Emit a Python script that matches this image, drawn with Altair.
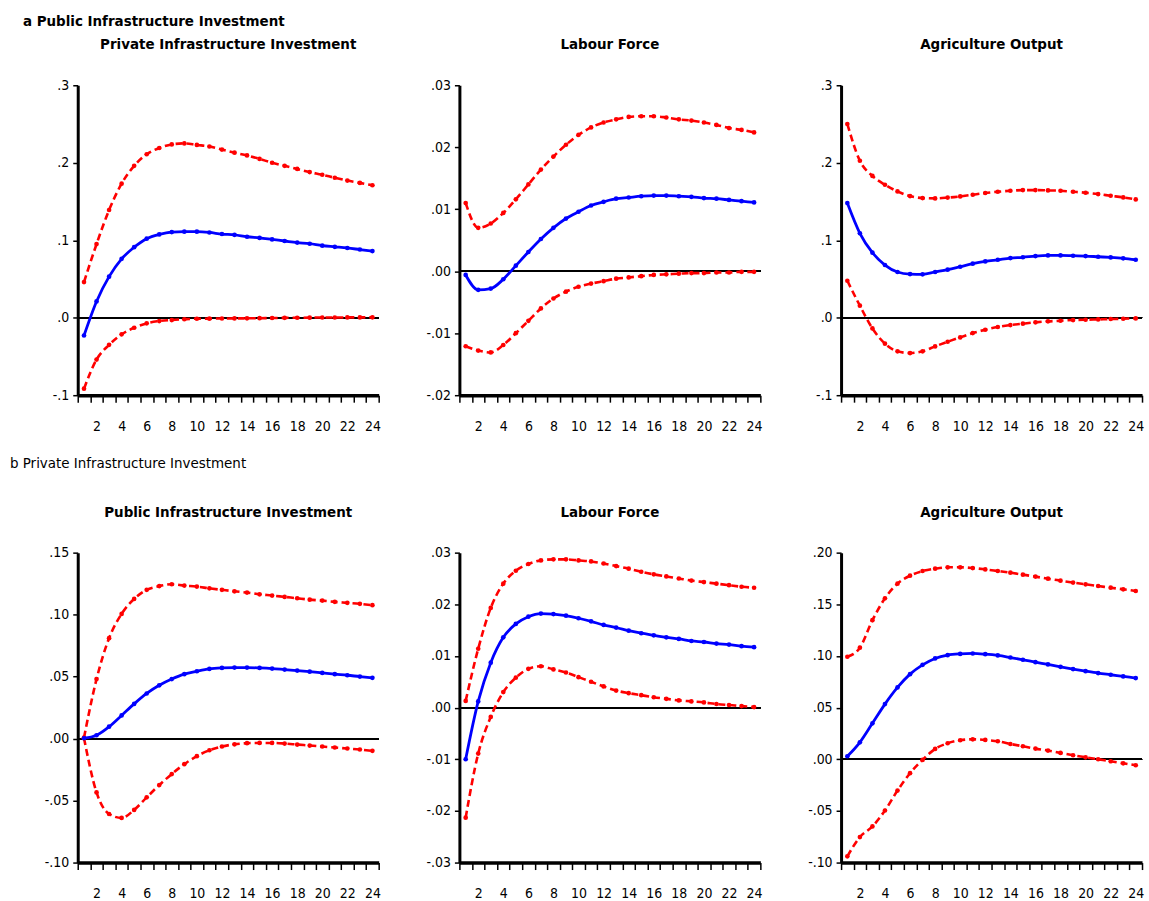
import altair as alt
import pandas as pd

periods = list(range(1, 25))

# ---- Row a: shock to Public Infrastructure Investment ----
a1_title = "Private  Infrastructure Investment"
a1_irf = [-0.023, 0.021, 0.053, 0.076, 0.091, 0.102, 0.1075, 0.1105, 0.111, 0.111, 0.110, 0.108,
          0.107, 0.1045, 0.103, 0.101, 0.099, 0.097, 0.0955, 0.093, 0.0915, 0.090, 0.088, 0.086]
a1_up = [0.046, 0.095, 0.139, 0.173, 0.196, 0.211, 0.219, 0.2237, 0.225, 0.223, 0.221, 0.217,
         0.213, 0.2095, 0.205, 0.200, 0.196, 0.192, 0.188, 0.1845, 0.1806, 0.177, 0.174, 0.171]
a1_lo = [-0.0916, -0.054, -0.035, -0.0215, -0.013, -0.0073, -0.0043, -0.003, -0.002, -0.0013, -0.0012, -0.001,
         -0.0009, -0.0008, -0.0006, -0.0004, -0.0002, 0.0, 0.0001, 0.0003, 0.0003, 0.0004, 0.0004, 0.0005]

a2_title = "Labour Force"
a2_irf = [-0.0006, -0.003, -0.0028, -0.0013, 0.0009, 0.0031, 0.0052, 0.007, 0.0085, 0.0096, 0.0106, 0.0112,
          0.0117, 0.0119, 0.0121, 0.0122, 0.0122, 0.0121, 0.0120, 0.0118, 0.0117, 0.0115, 0.0113, 0.0111]
a2_up = [0.011, 0.007, 0.0077, 0.0094, 0.0116, 0.014, 0.0164, 0.0185, 0.0204, 0.022, 0.0232, 0.024,
         0.0245, 0.0249, 0.025, 0.025, 0.0248, 0.0245, 0.0243, 0.024, 0.0236, 0.0231, 0.0228, 0.0224]
a2_lo = [-0.0121, -0.0128, -0.0131, -0.0119, -0.010, -0.008, -0.006, -0.0044, -0.0033, -0.0025, -0.002, -0.0016,
         -0.0012, -0.001, -0.0008, -0.0006, -0.0005, -0.0004, -0.0003, -0.0003, -0.0002, -0.0002, -0.0001, -0.0001]

a3_title = "Agriculture Output"
a3_irf = [0.148, 0.109, 0.084, 0.068, 0.059, 0.0563, 0.056, 0.059, 0.062, 0.0658, 0.0697, 0.0727,
          0.0748, 0.077, 0.078, 0.0796, 0.0804, 0.0804, 0.080, 0.0796, 0.0787, 0.0778, 0.0766, 0.0748]
a3_up = [0.250, 0.2026, 0.183, 0.1716, 0.163, 0.157, 0.1544, 0.154, 0.155, 0.1566, 0.1587, 0.161,
         0.1626, 0.1639, 0.1647, 0.1647, 0.1643, 0.1639, 0.1626, 0.1613, 0.1596, 0.1574, 0.1553, 0.1527]
a3_lo = [0.0477, 0.0155, -0.0138, -0.0335, -0.0434, -0.0456, -0.0434, -0.037, -0.031, -0.0254, -0.0198, -0.0155,
         -0.012, -0.0095, -0.0077, -0.006, -0.0047, -0.0039, -0.003, -0.0026, -0.0022, -0.0017, -0.0013, -0.0009]

# ---- Row b: shock to Private Infrastructure Investment ----
b1_title = "Public Infrastructure Investment"
b1_irf = [0.0003, 0.0027, 0.0096, 0.0187, 0.028, 0.0364, 0.043, 0.048, 0.052, 0.0543, 0.0562, 0.057,
          0.0573, 0.0573, 0.057, 0.0565, 0.0557, 0.0549, 0.054, 0.053, 0.052, 0.0511, 0.050, 0.049]
b1_up = [0.0008, 0.048, 0.081, 0.1006, 0.1127, 0.120, 0.123, 0.1245, 0.1234, 0.1226, 0.1212, 0.120,
         0.1188, 0.1178, 0.1164, 0.1154, 0.1143, 0.1132, 0.1121, 0.1113, 0.1103, 0.1095, 0.1087, 0.1076]
b1_lo = [0.0003, -0.0434, -0.0608, -0.064, -0.0575, -0.0474, -0.0375, -0.0286, -0.0206, -0.0142, -0.0094, -0.0064,
         -0.0046, -0.0037, -0.0035, -0.0035, -0.004, -0.0048, -0.0056, -0.0064, -0.0072, -0.008, -0.0088, -0.0099]

b2_title = "Labour Force"
b2_irf = [-0.010, 0.0012, 0.0087, 0.0136, 0.0162, 0.0176, 0.0182, 0.0181, 0.0178, 0.0173, 0.0167, 0.016,
          0.0155, 0.0149, 0.0144, 0.014, 0.0136, 0.0133, 0.0129, 0.0127, 0.0124, 0.0122, 0.0119, 0.0117]
b2_up = [0.0013, 0.0114, 0.0193, 0.024, 0.0265, 0.0278, 0.0285, 0.0287, 0.0287, 0.0285, 0.0283, 0.0279,
         0.0274, 0.0269, 0.0263, 0.0258, 0.0254, 0.025, 0.0246, 0.0243, 0.024, 0.0237, 0.0234, 0.0232]
b2_lo = [-0.0213, -0.0089, -0.0018, 0.003, 0.0058, 0.0075, 0.008, 0.0074, 0.0068, 0.0059, 0.005, 0.0041,
         0.0033, 0.0028, 0.0024, 0.002, 0.0017, 0.0014, 0.0012, 0.001, 0.0007, 0.0005, 0.0003, 0.0001]

b3_title = "Agriculture Output"
b3_irf = [0.0029, 0.0164, 0.0348, 0.0534, 0.0695, 0.0824, 0.0914, 0.0976, 0.1008, 0.102, 0.1024, 0.1017,
          0.1005, 0.0985, 0.0963, 0.094, 0.0918, 0.0895, 0.0873, 0.0853, 0.0834, 0.0818, 0.0802, 0.0786]
b3_up = [0.0992, 0.108, 0.1346, 0.1558, 0.170, 0.1777, 0.1822, 0.1845, 0.1858, 0.1858, 0.1851, 0.1838,
         0.1822, 0.1806, 0.1787, 0.1768, 0.1748, 0.1729, 0.171, 0.1693, 0.1677, 0.1661, 0.1645, 0.1629]
b3_lo = [-0.094, -0.0753, -0.065, -0.0496, -0.0303, -0.0135, -0.0006, 0.010, 0.0155, 0.0184, 0.0193, 0.0187,
         0.0174, 0.0148, 0.0126, 0.0103, 0.0084, 0.0061, 0.0039, 0.0019, 0.0, -0.0019, -0.0039, -0.0058]

section_a = "a Public Infrastructure Investment"
section_b = "b  Private Infrastructure Investment"

FONT = "DejaVu Sans Condensed, Liberation Sans Narrow, sans-serif"
W, H = 302, 311
UNIT = W / 24.0
x_ticks = [i + 0.5 for i in range(25)]


def panel(title, irf, up, lo, ydomain, yvalues, dec):
    df = pd.DataFrame({
        "h": periods * 3,
        "v": irf + up + lo,
        "s": ["irf"] * 24 + ["up"] * 24 + ["lo"] * 24,
    })
    xenc = alt.X(
        "h:Q",
        scale=alt.Scale(domain=[0.5, 24.5], nice=False, zero=False),
        axis=alt.Axis(
            values=x_ticks,
            labelExpr="(datum.value + 0.5) % 2 == 0 ? toString(datum.value + 0.5) : ''",
            labelOffset=UNIT / 2,
            labelOverlap=False,
            labelFlush=False,
            tickSize=7,
            tickWidth=1.5,
            labelPadding=17,
            domainWidth=3.5,
            grid=False,
            title=None,
        ),
    )
    yenc = alt.Y(
        "v:Q",
        scale=alt.Scale(domain=ydomain, nice=False, zero=False),
        axis=alt.Axis(
            values=yvalues,
            labelExpr=f"(datum.value < -1e-9 ? '-' : '') + replace(format(abs(datum.value), '.{dec}f'), '0.', '.')",
            labelFlush=False,
            labelOverlap=False,
            tickSize=5,
            tickWidth=1.5,
            labelPadding=4,
            domainWidth=3,
            grid=False,
            title=None,
        ),
    )
    base = alt.Chart(df).encode(x=xenc, y=yenc)
    zero = alt.Chart(df).mark_rule(color="black", strokeWidth=1).encode(y=alt.datum(0))
    layers = [zero]
    for s in ["up", "lo"]:
        sub = base.transform_filter(alt.datum.s == s)
        layers.append(sub.mark_line(color="#FF0000", strokeWidth=2.6, strokeDash=[7, 4], interpolate="monotone"))
        layers.append(sub.mark_circle(color="#FF0000", size=22, opacity=1))
    sub = base.transform_filter(alt.datum.s == "irf")
    layers.append(sub.mark_line(color="#0000FF", strokeWidth=2.8, interpolate="monotone"))
    layers.append(sub.mark_circle(color="#0000FF", size=22, opacity=1))
    return alt.layer(*layers).properties(
        width=W,
        height=H,
        title=alt.TitleParams(title, font=FONT, fontSize=15, fontWeight="bold", offset=26, color="black"),
    )


p1 = panel(a1_title, a1_irf, a1_up, a1_lo, [-0.1, 0.3], [-0.1, 0.0, 0.1, 0.2, 0.3], 1)
p2 = panel(a2_title, a2_irf, a2_up, a2_lo, [-0.02, 0.03], [-0.02, -0.01, 0.0, 0.01, 0.02, 0.03], 2)
p3 = panel(a3_title, a3_irf, a3_up, a3_lo, [-0.1, 0.3], [-0.1, 0.0, 0.1, 0.2, 0.3], 1)
p4 = panel(b1_title, b1_irf, b1_up, b1_lo, [-0.1, 0.15], [-0.10, -0.05, 0.0, 0.05, 0.10, 0.15], 2)
p5 = panel(b2_title, b2_irf, b2_up, b2_lo, [-0.03, 0.03], [-0.03, -0.02, -0.01, 0.0, 0.01, 0.02, 0.03], 2)
p6 = panel(b3_title, b3_irf, b3_up, b3_lo, [-0.1, 0.2], [-0.10, -0.05, 0.0, 0.05, 0.10, 0.15, 0.20], 2)

row_a = alt.hconcat(p1, p2, p3, spacing=81, bounds="flush").properties(
    title=alt.TitleParams(section_a, anchor="start", frame="group", dx=-55, font=FONT, fontSize=15,
                          fontWeight="bold", offset=8, color="black")
)
row_b = alt.hconcat(p4, p5, p6, spacing=81, bounds="flush").properties(
    title=alt.TitleParams(section_b, anchor="start", frame="group", dx=-68, font=FONT, fontSize=15,
                          fontWeight="normal", offset=34, color="black")
)

chart = alt.vconcat(row_a, row_b, spacing=23).properties(
    padding={"left": 10, "top": 13, "right": 0, "bottom": 0}
).configure_view(stroke=None).configure_axis(
    labelFont=FONT, labelFontSize=14, labelColor="black", domainColor="black", tickColor="black"
)

chart.save("out.html", embed_options={"renderer": "svg", "actions": False})
